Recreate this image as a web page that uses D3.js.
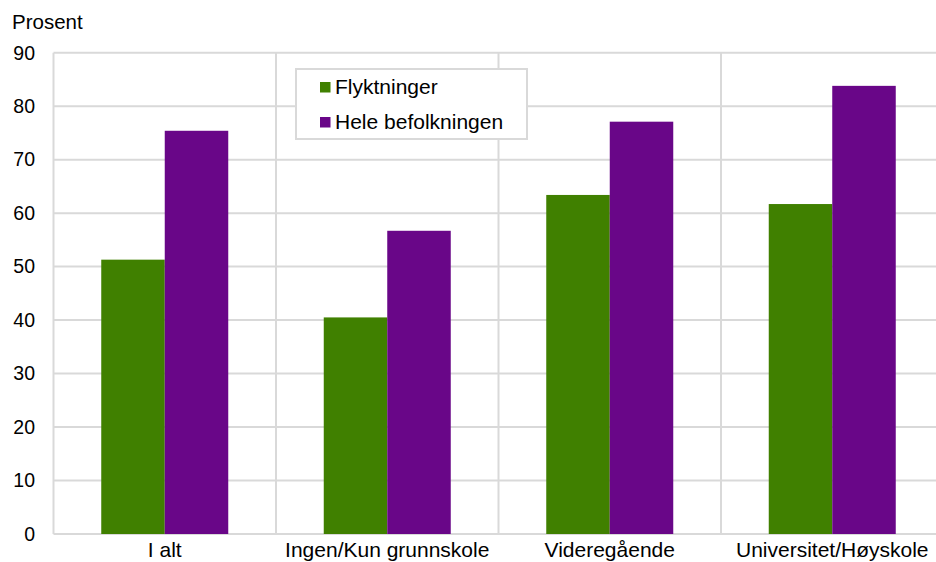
<!DOCTYPE html>
<html>
<head>
<meta charset="utf-8">
<script src="https://cdn.jsdelivr.net/npm/d3@7"></script>
<style>
  html, body { margin: 0; padding: 0; background: #fff; }
  svg text { font-family: "Liberation Sans", Arial, sans-serif; fill: #000; }
</style>
</head>
<body>
<svg id="chart" width="936" height="562"></svg>
<script>
const categories = ["I alt", "Ingen/Kun grunnskole", "Videregående", "Universitet/Høyskole"];
const seriesNames = ["Flyktninger", "Hele befolkningen"];
const flyktninger = [51.3, 40.5, 63.4, 61.7];
const heleBefolkningen = [75.4, 56.7, 77.1, 83.8];
const yTicks = [0, 10, 20, 30, 40, 50, 60, 70, 80, 90];
const colors = ["#408000", "#690688"];
const yLabel = "Prosent";

(function () {
const seriesValues = [flyktninger, heleBefolkningen];
const svg = d3.select("#chart");
const pLeft = 53.5, pRight = 943.5, pTop = 52.7, pBottom = 534;

const y = d3.scaleLinear().domain([0, 90]).range([pBottom, pTop]);
const x0 = d3.scaleBand().domain(categories).range([pLeft, pRight]).padding(0);
const x1 = d3.scaleBand().domain(seriesNames).range([0, x0.bandwidth()])
  .paddingInner(0).paddingOuter(0.752);

// horizontal gridlines
svg.append("g").selectAll("line").data(yTicks).join("line")
  .attr("x1", pLeft).attr("x2", pRight)
  .attr("y1", d => y(d)).attr("y2", d => y(d))
  .attr("stroke", "#d9d9d9").attr("stroke-width", 2);

// vertical gridlines at category boundaries
const bounds = categories.map(c => x0(c)).concat([pRight]);
svg.append("g").selectAll("line").data(bounds).join("line")
  .attr("x1", d => d).attr("x2", d => d)
  .attr("y1", pTop).attr("y2", pBottom)
  .attr("stroke", "#d9d9d9").attr("stroke-width", 2);

// bars
const groups = svg.append("g").selectAll("g").data(categories).join("g")
  .attr("transform", c => `translate(${x0(c)},0)`);
groups.selectAll("rect")
  .data((c, i) => seriesNames.map((s, j) => ({ s, j, v: seriesValues[j][i] })))
  .join("rect")
  .attr("x", d => x1(d.s))
  .attr("width", x1.bandwidth())
  .attr("y", d => y(d.v))
  .attr("height", d => y(0) - y(d.v))
  .attr("fill", d => colors[d.j]);

// y axis labels
svg.append("g").selectAll("text").data(yTicks).join("text")
  .attr("x", 35).attr("y", d => y(d)).attr("dy", "0.35em")
  .attr("text-anchor", "end").style("font-size", "19.5px")
  .text(d => d);

svg.append("text").attr("x", 12).attr("y", 28.5)
  .style("font-size", "20.5px").text(yLabel);

// x labels
svg.append("g").selectAll("text").data(categories).join("text")
  .attr("x", c => x0(c) + x0.bandwidth() / 2).attr("y", 557)
  .attr("text-anchor", "middle").style("font-size", "21px")
  .text(c => c);

// legend
const lg = svg.append("g");
lg.append("rect").attr("x", 296).attr("y", 69).attr("width", 231).attr("height", 70)
  .attr("fill", "#fff").attr("stroke", "#d9d9d9").attr("stroke-width", 2);
const items = lg.selectAll("g").data(seriesNames).join("g")
  .attr("transform", (d, i) => `translate(0,${i * 35})`);
items.append("rect").attr("x", 320).attr("y", 82).attr("width", 10.5).attr("height", 10.5)
  .attr("fill", (d, i) => colors[i]);
items.append("text").attr("x", 335).attr("y", 93.5).style("font-size", "21px").text(d => d);
})();
</script>
</body>
</html>
